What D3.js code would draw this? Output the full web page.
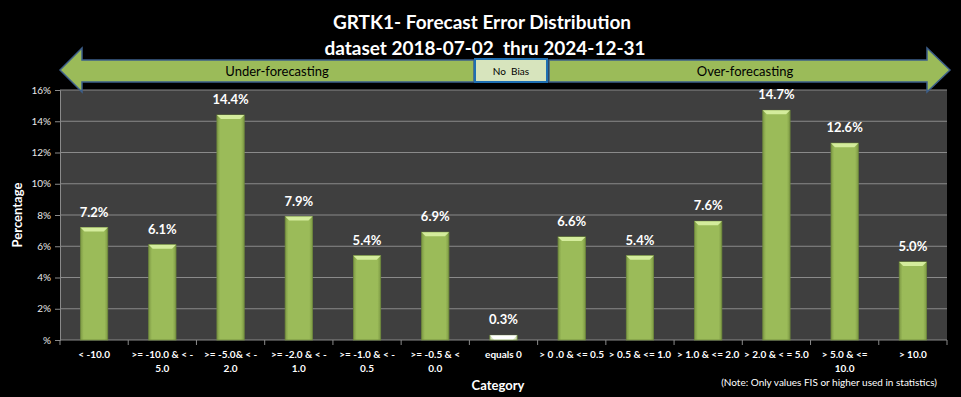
<!DOCTYPE html>
<html>
<head>
<meta charset="utf-8">
<title>GRTK1 Forecast Error Distribution</title>
<script src="https://cdn.jsdelivr.net/npm/d3@7"></script>
<style>
  body { margin: 0; background: #000; }
  text { font-family: Lato, "Open Sans", sans-serif; white-space: pre; }
</style>
</head>
<body>
<script>
// data
var categories = [
  ["< -10.0"], [">= -10.0 & < -", "5.0"], [">= -5.0& < -", "2.0"], [">= -2.0 & < -", "1.0"],
  [">= -1.0 & < -", "0.5"], [">= -0.5 & <", "0.0"], ["equals 0"], ["> 0 .0 & <= 0.5"],
  ["> 0.5 & <= 1.0"], ["> 1.0 & <= 2.0"], ["> 2.0 & < = 5.0"], ["> 5.0 & <=", "10.0"], ["> 10.0"]
];
var values = [7.2, 6.1, 14.4, 7.9, 5.4, 6.9, 0.3, 6.6, 5.4, 7.6, 14.7, 12.6, 5.0];
var yTicks = [0, 2, 4, 6, 8, 10, 12, 14, 16];

var width = 961, height = 397;
var margin = {top: 90, right: 14, bottom: 57, left: 60};
var w = width - margin.left - margin.right,
    h = height - margin.top - margin.bottom;

var svg = d3.select("body").append("svg")
  .attr("width", width).attr("height", height)
  .style("background", "#000");

var defs = svg.append("defs");
var g1 = defs.append("linearGradient").attr("id", "barGrad").attr("x1", 0).attr("x2", 1).attr("y1", 0).attr("y2", 0);
g1.append("stop").attr("offset", "0%").attr("stop-color", "#7e9a45");
g1.append("stop").attr("offset", "12%").attr("stop-color", "#9bbb59");
g1.append("stop").attr("offset", "88%").attr("stop-color", "#9bbb59");
g1.append("stop").attr("offset", "100%").attr("stop-color", "#7e9a45");
var g2 = defs.append("linearGradient").attr("id", "zeroGrad").attr("x1", 0).attr("x2", 1);
g2.append("stop").attr("offset", "0%").attr("stop-color", "#c5d6a3");
g2.append("stop").attr("offset", "15%").attr("stop-color", "#f4f8ea");
g2.append("stop").attr("offset", "85%").attr("stop-color", "#f4f8ea");
g2.append("stop").attr("offset", "100%").attr("stop-color", "#c5d6a3");

// titles
svg.append("text").attr("x", 482).attr("y", 29).attr("text-anchor", "middle")
  .attr("fill", "#fff").style("font-size", "19px").style("font-weight", "bold")
  .text("GRTK1- Forecast Error Distribution");
svg.append("text").attr("x", 485).attr("y", 55).attr("text-anchor", "middle")
  .attr("fill", "#fff").style("font-size", "19px").style("font-weight", "bold")
  .text("dataset 2018-07-02  thru 2024-12-31");

var chart = svg.append("g").attr("transform", "translate(" + margin.left + "," + margin.top + ")");

var x = d3.scaleBand().domain(d3.range(categories.length)).range([0, w]).paddingInner(0.6).paddingOuter(0.3);
var xOuter = d3.scaleBand().domain(d3.range(categories.length)).range([0, w]);
var y = d3.scaleLinear().domain([0, 16]).range([h, 0]);

chart.append("rect").attr("width", w).attr("height", h).attr("fill", "#3f3f3f");

// gridlines
chart.selectAll(".grid").data(yTicks.slice(1)).enter().append("line")
  .attr("x1", 0).attr("x2", w)
  .attr("y1", function(d) { return y(d); }).attr("y2", function(d) { return y(d); })
  .attr("stroke", "#8a8a8a").attr("stroke-width", 1);

// y axis
var yAxis = chart.append("g")
  .call(d3.axisLeft(y).tickValues(yTicks).tickSize(5).tickFormat(function(d) { return d === 0 ? "%" : d + "%"; }));
yAxis.select(".domain").attr("stroke", "#8a8a8a");
yAxis.selectAll(".tick line").attr("stroke", "#8a8a8a");
yAxis.selectAll("text").attr("fill", "#e8e8e8").style("font-size", "10px").attr("x", -9);

// x axis line + ticks at band edges
chart.append("line").attr("x1", 0).attr("x2", w).attr("y1", h).attr("y2", h).attr("stroke", "#8a8a8a");
chart.selectAll(".xtick").data(d3.range(categories.length + 1)).enter().append("line")
  .attr("x1", function(d) { return d < categories.length ? xOuter(d) : w; })
  .attr("x2", function(d) { return d < categories.length ? xOuter(d) : w; })
  .attr("y1", h).attr("y2", h + 5).attr("stroke", "#8a8a8a");

var labels = chart.selectAll(".xlab").data(categories).enter().append("text")
  .attr("text-anchor", "middle").attr("fill", "#fff")
  .style("font-size", "10px").style("font-weight", "bold")
  .attr("transform", function(d, i) { return "translate(" + (xOuter(i) + xOuter.bandwidth() / 2) + "," + (h + 18) + ")"; });
labels.selectAll("tspan").data(function(d) { return d; }).enter().append("tspan")
  .attr("x", 0).attr("dy", function(d, i) { return i === 0 ? 0 : 14; })
  .text(function(d) { return d; });

// bars
chart.selectAll(".bar").data(values).enter().append("rect")
  .attr("x", function(d, i) { return x(i); })
  .attr("y", function(d) { return y(d); })
  .attr("width", x.bandwidth())
  .attr("height", function(d) { return h - y(d); })
  .attr("fill", function(d, i) { return i === 6 ? "url(#zeroGrad)" : "url(#barGrad)"; })
  .attr("stroke", "#6f8a3c").attr("stroke-width", 0.8);
chart.selectAll(".bevel").data(values).enter().append("path")
  .attr("d", function(d, i) {
    var x0 = x(i), x1 = x(i) + x.bandwidth(), t = y(d);
    return "M" + x0 + "," + t + "L" + x1 + "," + t + "L" + (x1 - 4) + "," + (t + 4) + "L" + (x0 + 4) + "," + (t + 4) + "Z";
  })
  .attr("fill", function(d, i) { return i === 6 ? "#ffffff" : "#d4ec9c"; });

chart.selectAll(".val").data(values).enter().append("text")
  .attr("x", function(d, i) { return x(i) + x.bandwidth() / 2; })
  .attr("y", function(d) { return y(d) - 11; })
  .attr("text-anchor", "middle").attr("fill", "#fff")
  .style("font-size", "13px").style("font-weight", "bold")
  .text(function(d) { return d.toFixed(1) + "%"; });

// axis titles
svg.append("text").attr("transform", "translate(22," + (margin.top + h / 2) + ") rotate(-90)")
  .attr("text-anchor", "middle").attr("fill", "#fff").style("font-size", "13px").style("font-weight", "bold")
  .text("Percentage");
svg.append("text").attr("x", 498).attr("y", 390).attr("text-anchor", "middle")
  .attr("fill", "#fff").style("font-size", "13px").style("font-weight", "bold").text("Category");
svg.append("text").attr("x", 937).attr("y", 386).attr("text-anchor", "end")
  .attr("fill", "#fff").style("font-size", "10px").text("(Note: Only values FIS or higher used in statistics)");

// bias arrows
var arrows = svg.append("g");
arrows.append("path")
  .attr("d", "M60,70 L82,48 L82,60 L474,60 L474,82 L82,82 L82,92 Z")
  .attr("fill", "#9bbb59").attr("stroke", "#3d5f8a").attr("stroke-width", 1.5);
arrows.append("path")
  .attr("d", "M950,70 L927,48 L927,60 L549,60 L549,82 L927,82 L927,92 Z")
  .attr("fill", "#9bbb59").attr("stroke", "#3d5f8a").attr("stroke-width", 1.5);
arrows.append("rect").attr("x", 475).attr("y", 59).attr("width", 72).attr("height", 23)
  .attr("fill", "#d7e4bd").attr("stroke", "#1f6fb2").attr("stroke-width", 2);
arrows.append("text").attr("x", 277).attr("y", 76).attr("text-anchor", "middle")
  .style("font-size", "13px").attr("fill", "#000").text("Under-forecasting");
arrows.append("text").attr("x", 745).attr("y", 76).attr("text-anchor", "middle")
  .style("font-size", "13px").attr("fill", "#000").text("Over-forecasting");
arrows.append("text").attr("x", 511).attr("y", 75).attr("text-anchor", "middle")
  .style("font-size", "10px").attr("fill", "#000").text("No  Bias");
</script>
</body>
</html>
